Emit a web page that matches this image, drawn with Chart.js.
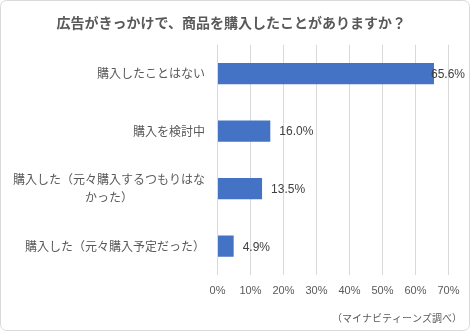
<!DOCTYPE html>
<html>
<head>
<meta charset="utf-8">
<script src="https://cdn.jsdelivr.net/npm/chart.js@4.4.0/dist/chart.umd.min.js"></script>
<style>
  html, body { margin: 0; padding: 0; background: #fff; }
  #wrap { width: 470px; height: 331px; position: relative; }
</style>
</head>
<body>
<div id="wrap"><canvas id="adChart"></canvas></div>
<script>
// Survey answers (top to bottom) and their shares in percent
const categories = [
  ['購入したことはない'],
  ['購入を検討中'],
  ['購入した（元々購入するつもりはな', 'かった）'],
  ['購入した（元々購入予定だった）']
];
const shares = [65.6, 16.0, 13.5, 4.9];
const xTicks = [0, 10, 20, 30, 40, 50, 60, 70];

const titleText = '広告がきっかけで、商品を購入したことがありますか？';
const sourceText = '（マイナビティーンズ調べ）';

const JP_FONT = '"Noto Sans CJK JP", "Noto Sans", sans-serif';
const NUM_FONT = '"Liberation Sans", Arial, sans-serif';

/**
 * Draws the outer frame, the category labels (wrapped lines centred),
 * the value labels next to the bars and the source note.
 */
const extrasPlugin = {
  id: 'extras',
  beforeDraw(chart) {
    const ctx = chart.ctx;
    ctx.save();
    ctx.strokeStyle = '#d9d9d9';
    ctx.lineWidth = 1;
    ctx.beginPath();
    ctx.roundRect(0.5, 0.5, chart.width - 1, chart.height - 1, 6);
    ctx.stroke();
    ctx.restore();
  },
  afterDatasetsDraw(chart) {
    const ctx = chart.ctx;
    const yScale = chart.scales.y;
    const area = chart.chartArea;

    // category labels
    ctx.save();
    ctx.font = '12px ' + JP_FONT;
    ctx.fillStyle = '#595959';
    ctx.textBaseline = 'middle';
    ctx.textAlign = 'center';
    const right = area.left - 12.5;
    const lineH = 18;
    categories.forEach((lines, i) => {
      const cy = yScale.getPixelForValue(i);
      const blockW = Math.max(...lines.map(l => ctx.measureText(l).width));
      const cx = right - blockW / 2;
      const top = cy - (lines.length - 1) * lineH / 2;
      lines.forEach((l, j) => ctx.fillText(l, cx, top + j * lineH));
    });
    ctx.restore();

    // value labels
    ctx.save();
    ctx.font = '12px ' + NUM_FONT;
    ctx.fillStyle = '#404040';
    ctx.textBaseline = 'middle';
    ctx.textAlign = 'left';
    const meta = chart.getDatasetMeta(0);
    meta.data.forEach((bar, i) => {
      const txt = shares[i].toFixed(1) + '%';
      const w = ctx.measureText(txt).width;
      const x = Math.min(bar.x + 9, chart.width - 5 - w);
      ctx.fillText(txt, x, bar.y + 1);
    });
    ctx.restore();

    // source note
    ctx.save();
    ctx.font = '10px ' + JP_FONT;
    ctx.fillStyle = '#595959';
    ctx.textAlign = 'right';
    ctx.textBaseline = 'middle';
    ctx.fillText(sourceText, chart.width - 8, 318);
    ctx.restore();
  }
};

const adChart = new Chart(document.getElementById('adChart'), {
  type: 'bar',
  data: {
    labels: categories,
    datasets: [{
      data: shares,
      backgroundColor: '#4472c4',
      borderWidth: 0,
      categoryPercentage: 1,
      barPercentage: 0.37
    }]
  },
  options: {
    indexAxis: 'y',
    responsive: true,
    maintainAspectRatio: false,
    animation: false,
    layout: { padding: { left: 14, right: 21.5, top: 0, bottom: 0 } },
    plugins: {
      legend: { display: false },
      tooltip: { enabled: false },
      title: {
        display: true,
        text: titleText,
        color: '#595959',
        font: { family: JP_FONT, size: 14, weight: 'bold' },
        padding: { top: 14, bottom: 14 }
      }
    },
    scales: {
      x: {
        min: 0,
        max: 70,
        afterBuildTicks: (scale) => { scale.ticks = xTicks.map(v => ({ value: v })); },
        afterFit: (scale) => { scale.height = 56; },
        border: { display: false },
        grid: { color: '#d9d9d9', drawTicks: false },
        ticks: {
          padding: 9,
          color: '#595959',
          font: { family: NUM_FONT, size: 11 },
          callback: (v) => v + '%'
        }
      },
      y: {
        afterFit: (scale) => { scale.width = 203.5; },
        border: { display: false },
        grid: { display: false },
        ticks: { display: false }
      }
    }
  },
  plugins: [extrasPlugin]
});
</script>
</body>
</html>
